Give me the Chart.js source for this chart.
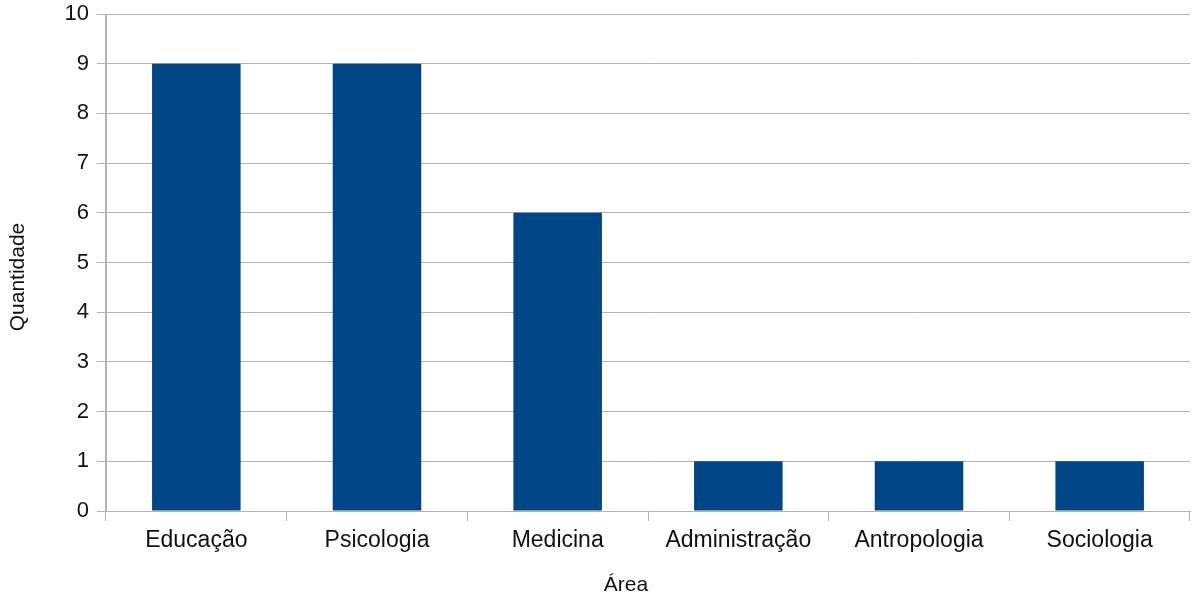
<!DOCTYPE html>
<html>
<head>
<meta charset="utf-8">
<script src="https://cdn.jsdelivr.net/npm/chart.js@4/dist/chart.umd.min.js"></script>
<style>
html,body{margin:0;padding:0;background:#fff;}
#wrap{width:1192px;height:597px;}
</style>
</head>
<body>
<div id="wrap"><canvas id="areaChart" width="1192" height="597"></canvas></div>
<script>
const areas=["Educação","Psicologia","Medicina","Administração","Antropologia","Sociologia"];
const quantidades=[9,9,6,1,1,1];
const yTicks=[0,1,2,3,4,5,6,7,8,9,10];

const gridGray="#b3b3b3";
const textColor="#111111";
const fontFamily="'Liberation Sans', Arial, sans-serif";

// axis titles drawn relative to the plot area
const axisTitles={
    id:"axisTitles",
    afterDraw(chart){
        const ctx=chart.ctx;
        const area=chart.chartArea;
        ctx.save();
        ctx.fillStyle=textColor;
        ctx.font="21px "+fontFamily;
        ctx.textAlign="center";
        ctx.textBaseline="middle";
        ctx.fillText("Área",area.left+520,585);
        ctx.translate(18,area.top+263);
        ctx.rotate(-Math.PI/2);
        ctx.fillText("Quantidade",0,0);
        ctx.restore();
    }
};

new Chart(
    document.getElementById("areaChart"),
    {
        type:"bar",
        data:{
            labels:areas,
            datasets:[{
                data:quantidades,
                backgroundColor:"#004586",
                borderWidth:0,
                barPercentage:0.49,
                categoryPercentage:1
            }]
        },
        options:{
            responsive:false,
            animation:false,
            layout:{
                padding:{top:14,right:2,bottom:0,left:0}
            },
            plugins:{
                legend:{display:false},
                tooltip:{enabled:false}
            },
            scales:{
                x:{
                    offset:true,
                    afterFit(scale){
                        scale.height=86;
                        scale.paddingLeft=0;
                        scale.paddingRight=0;
                    },
                    grid:{
                        offset:true,
                        drawOnChartArea:true,
                        color:ctx=>(ctx.index===0||ctx.index===areas.length)?gridGray:"rgba(0,0,0,0)",
                        tickColor:gridGray,
                        tickLength:10,
                        lineWidth:1
                    },
                    border:{color:gridGray},
                    ticks:{
                        color:textColor,
                        padding:6,
                        maxRotation:0,
                        font:{family:fontFamily,size:23}
                    }
                },
                y:{
                    min:0,
                    max:10,
                    afterFit(scale){
                        // let the top label sit on the canvas edge like the original
                        scale.width=106;
                        scale.paddingTop=0;
                        scale.paddingBottom=0;
                    },
                    afterBuildTicks(scale){
                        scale.ticks=yTicks.map(v=>({value:v}));
                    },
                    grid:{
                        color:gridGray,
                        tickColor:gridGray,
                        tickLength:9,
                        lineWidth:1
                    },
                    border:{color:gridGray},
                    ticks:{
                        color:textColor,
                        padding:8,
                        font:{family:fontFamily,size:22}
                    }
                }
            }
        },
        plugins:[axisTitles]
    }
);
</script>
</body>
</html>
